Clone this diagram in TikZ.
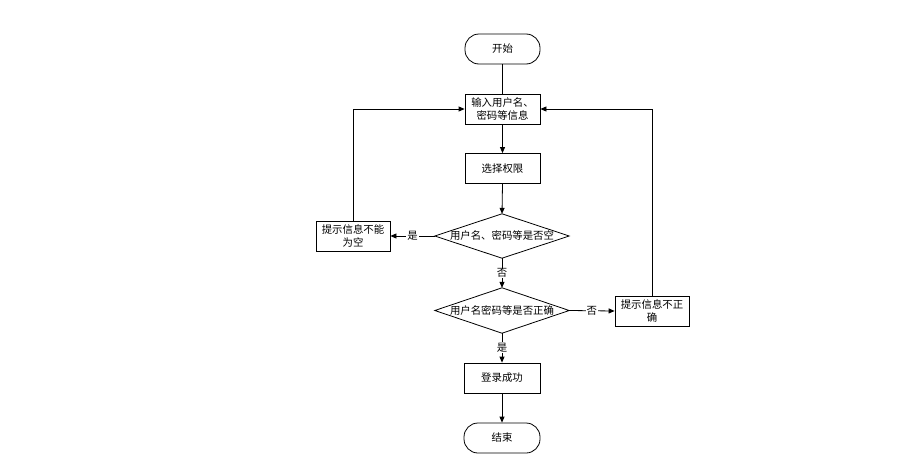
\documentclass[tikz,border=0pt]{standalone}
\usepackage{fontspec}
\newfontfamily\cjk{Noto Sans CJK SC}
\usetikzlibrary{arrows.meta}
\begin{document}
\begin{tikzpicture}[x=1pt,y=-1pt,
  base/.style={font=\cjk\fontsize{10.4}{13}\selectfont, align=center, inner sep=0pt, text=black},
  term/.style={base, draw=black, line width=0.8pt, rounded corners=14pt, minimum width=75pt, minimum height=30pt},
  procbox/.style={base, draw=black, line width=0.8pt, minimum width=75pt, minimum height=30pt},
  decision/.style={base, minimum width=134pt, minimum height=44pt},
  conn/.style={line width=0.8pt, draw=black},
  arr/.style={conn, -{Triangle[length=6pt,width=5pt]}},
  lbl/.style={base, fill=white, inner sep=1pt}
]
\useasboundingbox (0,0) rectangle (923,458);
\node[term] (start) at (502.5,49) {开始};
\node[procbox] (in) at (502.5,109) {输入用户名、\\密码等信息};
\node[procbox] (sel) at (502.5,168.5) {选择权限};
\node[decision] (d1) at (502,236) {用户名、密码等是否空};
\draw[conn] (d1.north) -- (d1.east) -- (d1.south) -- (d1.west) -- cycle;
\node[procbox, minimum width=74pt] (left) at (353,236) {提示信息不能\\为空};
\node[decision, minimum height=45pt] (d2) at (502,310.5) {用户名密码等是否正确};
\draw[conn] (d2.north) -- (d2.east) -- (d2.south) -- (d2.west) -- cycle;
\node[procbox, minimum width=74pt] (right) at (652,311) {提示信息不正\\确};
\node[procbox, minimum width=76pt] (ok) at (502,378) {登录成功};
\node[term, minimum width=76pt] (end) at (502,438) {结束};

\draw[conn] (start.south) -- (in.north);
\draw[arr] (in.south) -- (sel.north);
\draw[arr] (sel.south) -- (d1.north);
\draw[arr] (d1.west) -- node[lbl] (l1) {是} (left.east);
\draw[arr] (left.north) |- (in.west);
\draw[arr] (d1.south) -- node[lbl] (l2) {否} (d2.north);
\draw[arr] (d2.east) -- node[lbl] (l3) {否} (right.west);
\draw[arr] (right.north) |- (in.east);
\draw[arr] (d2.south) -- node[lbl] (l4) {是} (ok.north);
\draw[arr] (ok.south) -- (end.north);
\end{tikzpicture}
\end{document}
